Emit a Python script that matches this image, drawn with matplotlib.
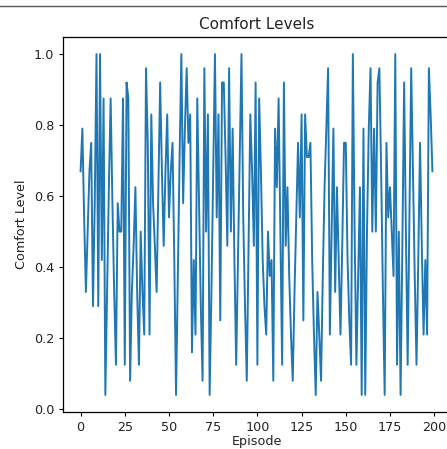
import matplotlib
matplotlib.use("Agg")
import matplotlib.pyplot as plt
from matplotlib.lines import Line2D

title = "Comfort Levels"
xlabel = "Episode"
ylabel = "Comfort Level"

comfort = [
    0.67, 0.79, 0.54, 0.33, 0.50, 0.67, 0.75, 0.29, 0.58, 1.0,
    0.29, 1.0, 0.42, 0.875, 0.04, 0.33, 0.625, 0.875, 0.58, 0.33,
    0.125, 0.58, 0.5, 0.5, 0.875, 0.125, 0.92, 0.875, 0.08, 0.33,
    0.46, 0.625, 0.33, 0.125, 0.5, 0.33, 0.21, 0.96, 0.75, 0.21,
    0.83, 0.58, 0.46, 0.33, 0.625, 0.92, 0.67, 0.46, 0.67, 0.83,
    0.54, 0.67, 0.75, 0.42, 0.04, 0.375, 0.71, 1.0, 0.58, 0.79,
    0.96, 0.75, 0.83, 0.16, 0.42, 0.21, 0.875, 0.58, 0.29, 0.08,
    0.96, 0.5, 0.83, 0.04, 0.33, 0.67, 1.0, 0.54, 0.83, 0.25,
    0.92, 0.92, 0.71, 0.46, 0.96, 0.5, 0.79, 0.42, 0.125, 0.42,
    0.71, 1.0, 0.54, 0.29, 0.08, 0.46, 0.83, 0.67, 0.46, 0.92,
    0.125, 0.875, 0.67, 0.42, 0.29, 0.21, 0.5, 0.375, 0.42, 0.08,
    0.79, 0.625, 0.875, 0.5, 0.125, 0.92, 0.46, 0.625, 0.375, 0.21,
    0.08, 0.33, 0.54, 0.75, 0.54, 0.83, 0.25, 0.83, 0.71, 0.71,
    0.75, 0.42, 0.21, 0.04, 0.33, 0.21, 0.08, 0.375, 0.625, 0.79,
    0.96, 0.21, 0.5, 0.79, 0.33, 0.625, 0.42, 0.21, 0.46, 0.75,
    0.75, 0.42, 0.25, 0.125, 1.0, 0.5, 0.125, 0.375, 0.625, 0.04,
    0.79, 0.04, 0.5, 0.79, 0.96, 0.5, 0.79, 0.5, 0.92, 0.96,
    0.67, 0.33, 0.04, 0.75, 0.54, 0.625, 0.5, 0.375, 1.0, 0.125,
    0.5, 0.04, 0.46, 0.92, 0.5, 0.125, 0.54, 0.96, 0.67, 0.375,
    0.125, 0.42, 0.75, 0.46, 0.21, 0.42, 0.21, 0.96, 0.83, 0.67,
]
episodes = list(range(len(comfort)))

fig = plt.figure(figsize=(4.47, 4.49), dpi=100)
ax = fig.add_axes([63 / 447, 1 - 412 / 449, 387 / 447, 375 / 449])
ax.plot(episodes, comfort, color="#1f77b4", linewidth=1.4)
ax.set_title(title, fontsize=11, color="#222222", pad=5.5)
ax.set_xlabel(xlabel, fontsize=9.2, color="#222222", labelpad=1)
ax.set_ylabel(ylabel, fontsize=9.2, color="#222222", labelpad=4)
ax.set_xticks([0, 25, 50, 75, 100, 125, 150, 175, 200])
ax.set_yticks([0.0, 0.2, 0.4, 0.6, 0.8, 1.0])
ax.tick_params(labelsize=9.2, labelcolor="#222222", length=3.2, pad=3.0)
for s in ax.spines.values():
    s.set_linewidth(0.9)

fig.add_artist(Line2D([0, 1], [1 - 6 / 449, 1 - 6 / 449], transform=fig.transFigure,
                      color="#555555", linewidth=1.0))

fig.savefig("out.png", dpi=100)
